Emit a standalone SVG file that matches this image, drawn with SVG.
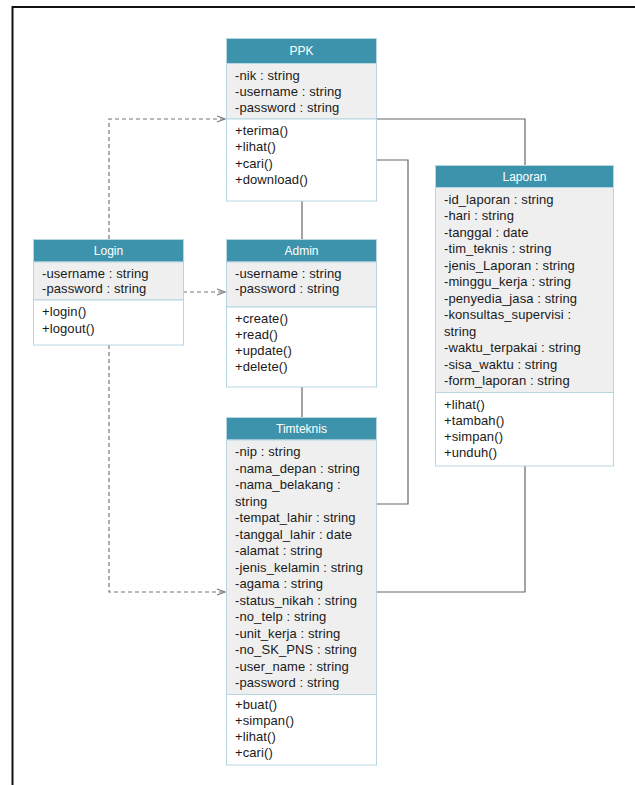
<svg xmlns="http://www.w3.org/2000/svg" width="635" height="785" viewBox="0 0 635 785">
<style>
.hd{fill:#3d93ab;stroke:#b8d6e2;stroke-width:1}
.at{fill:#efefef;stroke:#b8d6e2;stroke-width:1}
.me{fill:#ffffff;stroke:#b8d6e2;stroke-width:1}
.t{font-family:"Liberation Sans",Arial,sans-serif;font-size:13px;letter-spacing:0.1px;fill:#1a1a1a}
.h{font-family:"Liberation Sans",Arial,sans-serif;font-size:12px;fill:#ffffff;text-anchor:middle}
.c{fill:none;stroke:#666;stroke-width:1.2}
.d{fill:none;stroke:#777;stroke-width:1.2;stroke-dasharray:4 3}
</style>
<defs>
<marker id="open" markerWidth="10" markerHeight="10" refX="9" refY="5" orient="auto" markerUnits="userSpaceOnUse">
<path d="M1,2 L9,5 L1,8" fill="none" stroke="#777" stroke-width="1.2"/>
</marker>
</defs>
<rect x="0" y="0" width="635" height="785" fill="#ffffff"/>
<path d="M12.5,785 L12.5,7 L635,7" fill="none" stroke="#111" stroke-width="2"/>

<g id="connectors">
<path class="c" d="M377,119 H525 V165"/>
<path class="c" d="M377,160 H408 V504 H377"/>
<path class="c" d="M377,592 H525 V466"/>
<path class="c" d="M302,201 V239"/>
<path class="c" d="M302,387 V417"/>
<path class="d" d="M109,239 V119 H225" marker-end="url(#open)"/>
<path class="d" d="M183,292 H225" marker-end="url(#open)"/>
<path class="d" d="M109,345 V592 H225" marker-end="url(#open)"/>
</g>

<g id="PPK">
<rect class="hd" x="226.5" y="38.5" width="150" height="25"/>
<rect class="at" x="226.5" y="63.5" width="150" height="55.5"/>
<rect class="me" x="226.5" y="119" width="150" height="82"/>
<text class="h" x="301.5" y="55">PPK</text>
<text class="t" x="235" y="79.5">-nik : string</text>
<text class="t" x="235" y="96">-username : string</text>
<text class="t" x="235" y="111.5">-password : string</text>
<text class="t" x="235" y="134.5">+terima()</text>
<text class="t" x="235" y="151">+lihat()</text>
<text class="t" x="235" y="167.5">+cari()</text>
<text class="t" x="235" y="184">+download()</text>
</g>

<g id="Login">
<rect class="hd" x="33.5" y="239.5" width="150" height="22.5"/>
<rect class="at" x="33.5" y="262" width="150" height="38"/>
<rect class="me" x="33.5" y="300" width="150" height="45"/>
<text class="h" x="108.5" y="255">Login</text>
<text class="t" x="42" y="277.5">-username  : string</text>
<text class="t" x="42" y="293">-password : string</text>
<text class="t" x="42" y="316">+login()</text>
<text class="t" x="42" y="332.5">+logout()</text>
</g>

<g id="Admin">
<rect class="hd" x="226.5" y="239.5" width="150" height="22.5"/>
<rect class="at" x="226.5" y="262" width="150" height="45"/>
<rect class="me" x="226.5" y="307" width="150" height="80"/>
<text class="h" x="301.5" y="255">Admin</text>
<text class="t" x="235" y="277.5">-username : string</text>
<text class="t" x="235" y="293">-password : string</text>
<text class="t" x="235" y="322.5">+create()</text>
<text class="t" x="235" y="338.5">+read()</text>
<text class="t" x="235" y="354.5">+update()</text>
<text class="t" x="235" y="370.5">+delete()</text>
</g>

<g id="Laporan">
<rect class="hd" x="435.5" y="165.5" width="178" height="22"/>
<rect class="at" x="435.5" y="187.5" width="178" height="205"/>
<rect class="me" x="435.5" y="392.5" width="178" height="73.5"/>
<text class="h" x="524.5" y="180.5">Laporan</text>
<text class="t" x="444" y="203.5">-id_laporan : string</text>
<text class="t" x="444" y="220">-hari : string</text>
<text class="t" x="444" y="236.5">-tanggal : date</text>
<text class="t" x="444" y="253">-tim_teknis : string</text>
<text class="t" x="444" y="269.5">-jenis_Laporan : string</text>
<text class="t" x="444" y="286">-minggu_kerja : string</text>
<text class="t" x="444" y="302.5">-penyedia_jasa : string</text>
<text class="t" x="444" y="319">-konsultas_supervisi :</text>
<text class="t" x="444" y="335.5">string</text>
<text class="t" x="444" y="352">-waktu_terpakai : string</text>
<text class="t" x="444" y="368.5">-sisa_waktu : string</text>
<text class="t" x="444" y="385">-form_laporan : string</text>
<text class="t" x="444" y="408.5">+lihat()</text>
<text class="t" x="444" y="424.5">+tambah()</text>
<text class="t" x="444" y="441">+simpan()</text>
<text class="t" x="444" y="457">+unduh()</text>
</g>

<g id="Timteknis">
<rect class="hd" x="226.5" y="417.5" width="150" height="22.5"/>
<rect class="at" x="226.5" y="440" width="150" height="254.5"/>
<rect class="me" x="226.5" y="694.5" width="150" height="70.5"/>
<text class="h" x="301.5" y="433">Timteknis</text>
<text class="t" x="235" y="456">-nip : string</text>
<text class="t" x="235" y="472.5">-nama_depan : string</text>
<text class="t" x="235" y="489">-nama_belakang :</text>
<text class="t" x="235" y="505.5">string</text>
<text class="t" x="235" y="522">-tempat_lahir : string</text>
<text class="t" x="235" y="538.5">-tanggal_lahir : date</text>
<text class="t" x="235" y="555">-alamat : string</text>
<text class="t" x="235" y="571.5">-jenis_kelamin : string</text>
<text class="t" x="235" y="588">-agama : string</text>
<text class="t" x="235" y="604.5">-status_nikah : string</text>
<text class="t" x="235" y="621">-no_telp : string</text>
<text class="t" x="235" y="637.5">-unit_kerja : string</text>
<text class="t" x="235" y="654">-no_SK_PNS : string</text>
<text class="t" x="235" y="670.5">-user_name : string</text>
<text class="t" x="235" y="687">-password : string</text>
<text class="t" x="235" y="708.5">+buat()</text>
<text class="t" x="235" y="725">+simpan()</text>
<text class="t" x="235" y="741">+lihat()</text>
<text class="t" x="235" y="757">+cari()</text>
</g>
</svg>
